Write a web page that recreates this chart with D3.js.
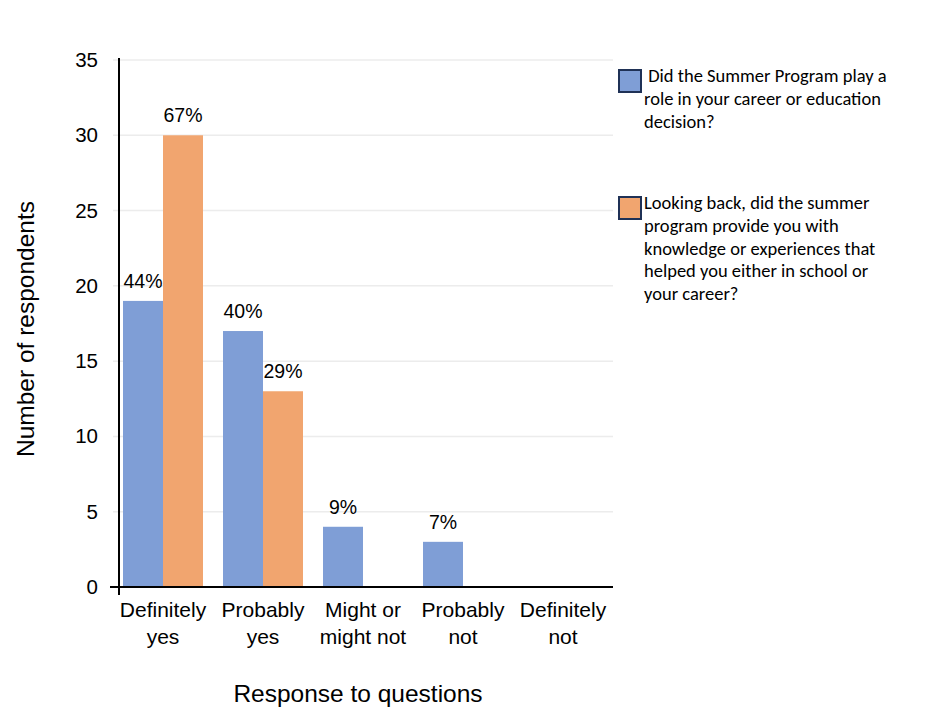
<!DOCTYPE html>
<html>
<head>
<meta charset="utf-8">
<script src="https://cdn.jsdelivr.net/npm/d3@7"></script>
<style>
  body { margin: 0; background: #fff; }
  text { font-family: Arial, 'Liberation Sans', sans-serif; fill: #000; }
  .legend text { font-family: Carlito, Lato, 'Open Sans', sans-serif; }
</style>
</head>
<body>
<div id="chart"></div>
<script>
const categories = [['Definitely', 'yes'], ['Probably', 'yes'], ['Might or', 'might not'], ['Probably', 'not'], ['Definitely', 'not']]
const roleCounts = [19, 17, 4, 3, 0]
const roleLabels = ['44%', '40%', '9%', '7%', '']
const helpCounts = [30, 13, 0, 0, 0]
const helpLabels = ['67%', '29%', '', '', '']
const yTicks = [0, 5, 10, 15, 20, 25, 30, 35]
const legendItems = [
  { color: '#7f9ed6', lines: [' Did the Summer Program play a', 'role in your career or education', 'decision?'] },
  { color: '#f1a56f', lines: ['Looking back, did the summer', 'program provide you with', 'knowledge or experiences that', 'helped you either in school or', 'your career?'] }
]
const seriesColors = ['#7f9ed6', '#f1a56f']

const width = 929
const height = 722
const svg = d3.select('#chart').append('svg')
  .attr('width', width)
  .attr('height', height)

const plotLeft = 113
const plotRight = 613
const plotTop = 60
const plotBottom = 587

const x = d3.scaleBand()
  .domain(d3.range(categories.length))
  .range([plotLeft, plotRight])
  .paddingInner(0.2)
  .paddingOuter(0.1)
const xSub = d3.scaleBand()
  .domain([0, 1])
  .range([0, x.bandwidth()])
const y = d3.scaleLinear().domain([0, 35]).range([plotBottom, plotTop])

// gridlines
svg.append('g')
  .selectAll('line')
  .data(yTicks.filter(d => d > 0))
  .join('line')
  .attr('x1', plotLeft)
  .attr('x2', plotRight)
  .attr('y1', d => y(d))
  .attr('y2', d => y(d))
  .attr('stroke', '#ececec')
  .attr('stroke-width', 1.5)

const series = [
  { values: roleCounts, labels: roleLabels },
  { values: helpCounts, labels: helpLabels }
]

series.forEach((s, si) => {
  const g = svg.append('g')
  g.selectAll('rect')
    .data(s.values)
    .join('rect')
    .attr('x', (d, i) => x(i) + xSub(si))
    .attr('y', d => y(d))
    .attr('width', xSub.bandwidth())
    .attr('height', d => y(0) - y(d))
    .attr('fill', seriesColors[si])
  g.selectAll('text')
    .data(s.values)
    .join('text')
    .attr('x', (d, i) => x(i) + xSub(si) + xSub.bandwidth() / 2)
    .attr('y', d => y(d) - 13)
    .attr('text-anchor', 'middle')
    .style('font-size', '19.5px')
    .text((d, i) => s.labels[i])
})

// y axis
const yAxis = d3.axisLeft(y).tickValues(yTicks).tickSize(0).tickPadding(21)
const yAxisG = svg.append('g')
  .attr('transform', `translate(119,0)`)
  .call(yAxis)
yAxisG.select('.domain').remove()
yAxisG.selectAll('text').style('font-size', '20.5px').attr('font-family', null)
svg.append('line')
  .attr('x1', 119).attr('x2', 119)
  .attr('y1', y(35) - 2).attr('y2', y(0) + 8)
  .attr('stroke', '#000').attr('stroke-width', 2)

// x axis
svg.append('line')
  .attr('x1', 110).attr('x2', plotRight)
  .attr('y1', y(0)).attr('y2', y(0))
  .attr('stroke', '#000').attr('stroke-width', 2)

const xLab = svg.append('g')
  .selectAll('text')
  .data(categories)
  .join('text')
  .attr('x', (d, i) => x(i) + x.bandwidth() / 2)
  .attr('y', 617)
  .attr('text-anchor', 'middle')
  .style('font-size', '21px')
xLab.selectAll('tspan')
  .data(d => d)
  .join('tspan')
  .attr('x', function () { return this.parentNode.getAttribute('x') })
  .attr('dy', (d, i) => i === 0 ? 0 : 27)
  .text(d => d)

// axis titles
svg.append('text')
  .attr('x', 358)
  .attr('y', 702)
  .attr('text-anchor', 'middle')
  .style('font-size', '24.5px')
  .text('Response to questions')
svg.append('text')
  .attr('transform', 'translate(34,329) rotate(-90)')
  .attr('text-anchor', 'middle')
  .style('font-size', '24.5px')
  .text('Number of respondents')

// legend
const legend = svg.append('g').attr('class', 'legend')
const legendTops = [70, 197]
legendItems.forEach((item, li) => {
  const ly = legendTops[li]
  legend.append('rect')
    .attr('x', 619).attr('y', ly)
    .attr('width', 22).attr('height', 22)
    .attr('fill', item.color)
    .attr('stroke', '#1f3156')
    .attr('stroke-width', 2)
  legend.append('text')
    .attr('x', 644)
    .attr('y', ly + 12)
    .style('font-size', '18.5px')
    .style('white-space', 'pre')
    .selectAll('tspan')
    .data(item.lines)
    .join('tspan')
    .attr('x', 644)
    .attr('dy', (d, i) => i === 0 ? 0 : 22.8)
    .text(d => d)
})
</script>
</body>
</html>
